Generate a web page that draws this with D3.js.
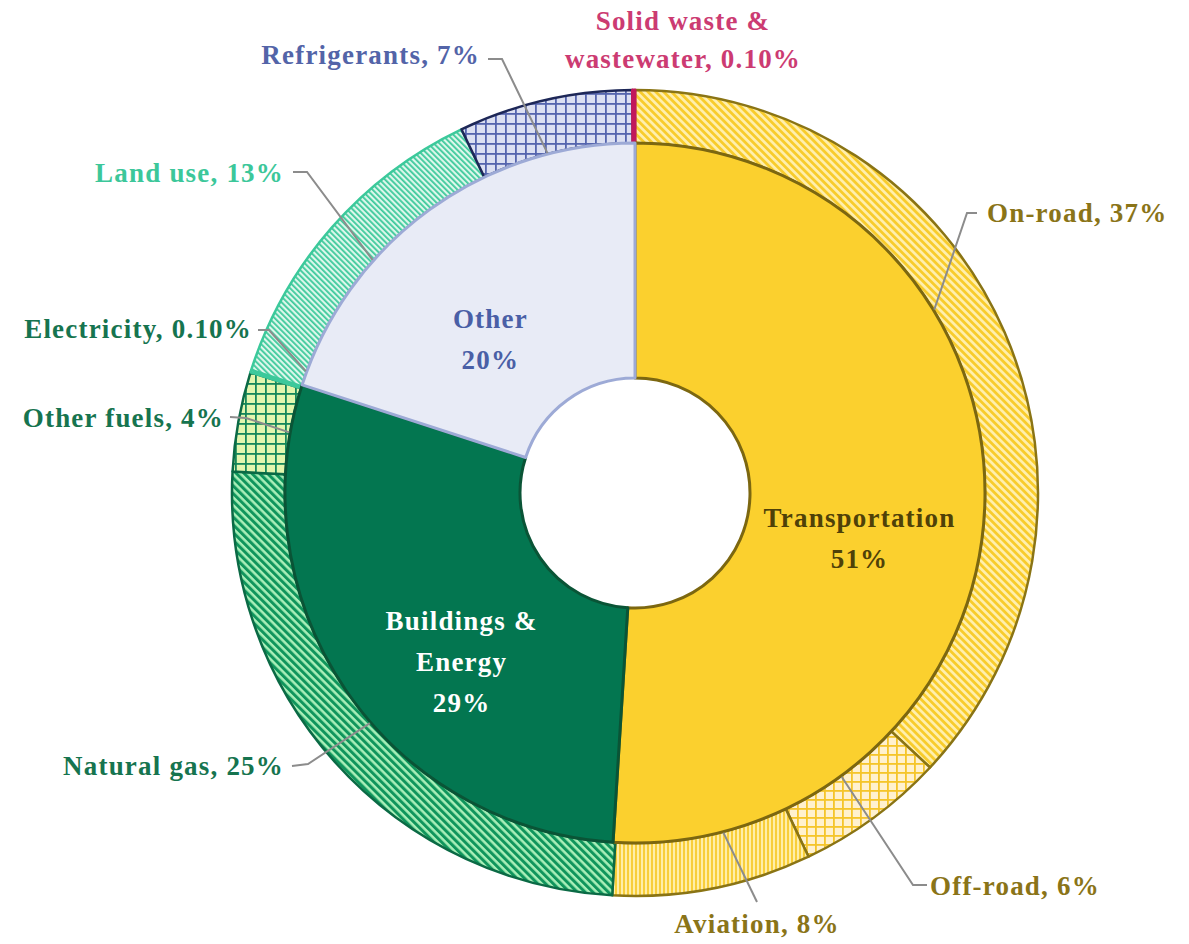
<!DOCTYPE html>
<html>
<head>
<meta charset="utf-8">
<script src="https://cdn.jsdelivr.net/npm/d3@7"></script>
<style>
  html, body { margin: 0; padding: 0; background: #ffffff; }
  svg { display: block; }
  text { font-family: "Liberation Serif", "DejaVu Serif", serif; font-weight: bold; letter-spacing: 1.2px; }
</style>
</head>
<body>
<svg id="chart" width="1189" height="944"></svg>
<script>
// ---- data ----
const sectorNames  = ["Transportation", "Buildings & Energy", "Other"];
const sectorValues = [51, 29, 20];
const sectorLabels = [["Transportation", "51%"], ["Buildings &", "Energy", "29%"], ["Other", "20%"]];

const subNames   = ["On-road", "Off-road", "Aviation", "Natural gas", "Other fuels", "Electricity", "Land use", "Refrigerants", "Solid waste & wastewater"];
const subValues  = [37, 6, 8, 25, 4, 0.1, 13, 7, 0.1];
const subLabels  = [["On-road, 37%"], ["Off-road, 6%"], ["Aviation, 8%"], ["Natural gas, 25%"], ["Other fuels, 4%"], ["Electricity, 0.10%"], ["Land use, 13%"], ["Refrigerants, 7%"], ["Solid waste &", "wastewater, 0.10%"]];

// ---- styles ----
const sectorFill   = ["#FBD02E", "#037650", "#E8EBF6"];
const sectorStroke = ["#7C6710", "#0A5436", "#9DAAD6"];
const sectorText   = ["#4F4108", "#ffffff", "#4A5FA6"];
const subStroke    = ["#8A7414", "#8A7414", "#8A7414", "#0B6A45", "#0B6A45", "#3CC99B", "#3CC99B", "#1D2757", "#C2185B"];
const subText      = ["#8A7418", "#8A7418", "#8A7418", "#16744F", "#16744F", "#16744F", "#3CC79A", "#5364A8", "#CC3B72"];

const W = 1189, H = 944;
const cx = 635, cy = 493;
const rHole = 115, rMid = 350, rOut = 403;

const svg = d3.select("#chart");
const defs = svg.append("defs");

function stripes(id, bg, fg, period, sw, rot) {
  const p = defs.append("pattern").attr("id", id).attr("patternUnits", "userSpaceOnUse")
    .attr("width", period).attr("height", period).attr("patternTransform", `rotate(${rot})`);
  p.append("rect").attr("width", period).attr("height", period).attr("fill", bg);
  p.append("rect").attr("width", sw).attr("height", period).attr("fill", fg);
}
function grid(id, bg, fg, period, sw) {
  const p = defs.append("pattern").attr("id", id).attr("patternUnits", "userSpaceOnUse")
    .attr("width", period).attr("height", period);
  p.append("rect").attr("width", period).attr("height", period).attr("fill", bg);
  p.append("rect").attr("width", sw).attr("height", period).attr("fill", fg);
  p.append("rect").attr("width", period).attr("height", sw).attr("fill", fg);
}
stripes("p-onroad", "#FFEFAE", "#F8CC2C", 5.5, 2.8, -45);
grid("p-offroad", "#FFF1CF", "#F5C52A", 9, 1.8);
stripes("p-aviation", "#FFEEA8", "#F8CE3A", 4, 2, 0);
stripes("p-gas", "#A9EFB8", "#0F955C", 5.5, 3, -45);
grid("p-otherfuels", "#E2F6AE", "#15875A", 10, 1.8);
stripes("p-elec", "#DDF7EB", "#3CC99B", 4, 1.8, -45);
stripes("p-landuse", "#DDF7EB", "#3CC99B", 4, 1.8, -45);
grid("p-refrig", "#DCE0F2", "#5565AE", 10, 1.8);
const subFill = ["url(#p-onroad)", "url(#p-offroad)", "url(#p-aviation)", "url(#p-gas)", "url(#p-otherfuels)", "url(#p-elec)", "url(#p-landuse)", "url(#p-refrig)", "#C2185B"];

const g = svg.append("g").attr("transform", `translate(${cx},${cy})`);

const pie = d3.pie().sort(null).value(d => d).startAngle(0).endAngle(2 * Math.PI);
const innerArcs = pie(sectorValues);
const outerArcs = pie(subValues);

const arcInner = d3.arc().innerRadius(rHole).outerRadius(rMid);
const arcOuter = d3.arc().innerRadius(rMid).outerRadius(rOut);

// outer ring
g.selectAll("path.outer").data(outerArcs).join("path")
  .attr("class", "outer")
  .attr("d", arcOuter)
  .attr("fill", (d, i) => subFill[i])
  .attr("stroke", (d, i) => subStroke[i])
  .attr("stroke-width", (d, i) => i === 8 ? 3 : 2.5)
  .attr("stroke-linejoin", "round");

// inner ring
g.selectAll("path.inner").data(innerArcs).join("path")
  .attr("class", "inner")
  .attr("d", arcInner)
  .attr("fill", (d, i) => sectorFill[i])
  .attr("stroke", (d, i) => sectorStroke[i])
  .attr("stroke-width", 3)
  .attr("stroke-linejoin", "round");

// inner labels (positions: angle fraction within slice and radius)
const innerLabelPos = [{f: 0.552, r: 229}, {f: 0.404, r: 242}, {f: 0.399, r: 211}];
const lineH = 41;
innerArcs.forEach((a, i) => {
  const ang = a.startAngle + innerLabelPos[i].f * (a.endAngle - a.startAngle);
  const x = Math.sin(ang) * innerLabelPos[i].r;
  const y = -Math.cos(ang) * innerLabelPos[i].r;
  const lines = sectorLabels[i];
  const t = g.append("text").attr("text-anchor", "middle").attr("fill", sectorText[i]).attr("font-size", 27);
  lines.forEach((s, k) => {
    t.append("tspan").attr("x", x).attr("y", y + (k - (lines.length - 1) / 2) * lineH + 9).text(s);
  });
});

// outer labels: text position (page layout), leader start, and anchor fraction/offset on ring
const outerLabelLayout = [
  {x: 987, y: 222, anchor: "start", lx: [977, 967], ly: [213, 213], f: 0.44, off: 0},
  {x: 930, y: 895, anchor: "start", lx: [927, 913], ly: [885, 885], f: 0.51, off: 0},
  {x: 757, y: 933, anchor: "middle", lx: [757], ly: [902], f: 0.38, off: 0},
  {x: 284, y: 775, anchor: "end", lx: [292, 308], ly: [766, 764], f: 0.51, off: 0},
  {x: 224, y: 427, anchor: "end", lx: [230, 246], ly: [417, 418], f: 0.48, off: 0},
  {x: 252, y: 338, anchor: "end", lx: [258, 269], ly: [330, 330], f: 0.5, off: 2.7},
  {x: 284, y: 182, anchor: "end", lx: [293, 307], ly: [172, 172], f: 0.51, off: 0},
  {x: 480, y: 64, anchor: "end", lx: [488, 502], ly: [59, 59], f: 0.44, off: 0},
  {x: 683, y: 30, anchor: "middle", lx: [], ly: [], f: 0.5, off: 0}
];

const lab = svg.append("g");
outerArcs.forEach((a, i) => {
  const L = outerLabelLayout[i];
  const lines = subLabels[i];
  const t = lab.append("text").attr("text-anchor", L.anchor).attr("fill", subText[i]).attr("font-size", 27);
  lines.forEach((s, k) => t.append("tspan").attr("x", L.x).attr("y", L.y + k * 38).text(s));
  if (L.lx.length) {
    const ang = a.startAngle + L.f * (a.endAngle - a.startAngle) + L.off * Math.PI / 180;
    const rr = rMid + 1;
    const pts = L.lx.map((px, k) => [px, L.ly[k]]);
    pts.push([cx + Math.sin(ang) * rr, cy - Math.cos(ang) * rr]);
    lab.append("path").attr("d", d3.line()(pts)).attr("fill", "none")
      .attr("stroke", "#8C8C8C").attr("stroke-width", 2);
  }
});
</script>
</body>
</html>
